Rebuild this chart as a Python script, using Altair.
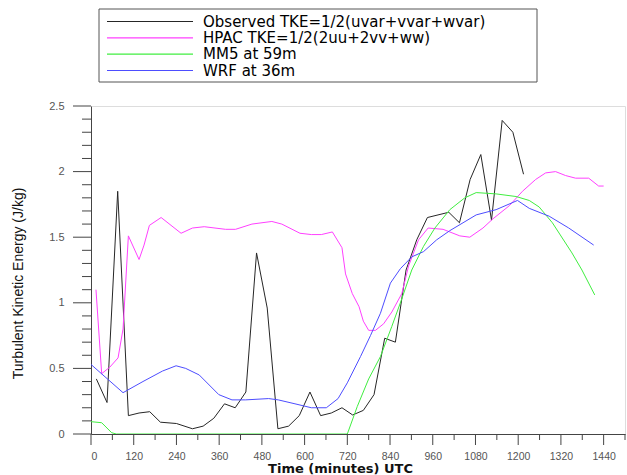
import altair as alt
import pandas as pd

series_names = [
    "Observed TKE=1/2(uvar+vvar+wvar)",
    "HPAC TKE=1/2(2uu+2vv+ww)",
    "MM5 at 59m",
    "WRF at 36m",
]
series_colors = ["#262626", "#ff40ff", "#40ee40", "#4d4dff"]

obs_t = [15, 45, 75, 105, 135, 165, 195, 240, 285, 315, 345, 375, 405, 435, 465, 495,
         525, 555, 585, 615, 645, 675, 705, 735, 765, 795, 825, 855, 885, 915, 945,
         1005, 1035, 1065, 1095, 1125, 1155, 1185, 1215]
obs_v = [0.42, 0.24, 1.85, 0.14, 0.16, 0.17, 0.09, 0.08, 0.04, 0.06, 0.12, 0.23, 0.20,
         0.32, 1.38, 0.96, 0.04, 0.06, 0.14, 0.32, 0.14, 0.16, 0.20, 0.145, 0.18, 0.30,
         0.73, 0.70, 1.25, 1.48, 1.65, 1.69, 1.61, 1.94, 2.13, 1.63, 2.39, 2.30, 1.98]

hpac_t = [14, 30, 53, 76, 90, 105, 135, 149, 164, 197, 253, 285, 318, 378, 406, 452,
          508, 536, 587, 619, 647, 678, 705, 715, 734, 753, 765, 780, 799, 822, 845,
          873, 892, 920, 947, 989, 1036, 1064, 1101, 1129, 1175, 1212, 1249, 1277,
          1305, 1333, 1361, 1398, 1426, 1440]
hpac_v = [1.10, 0.46, 0.51, 0.58, 0.80, 1.51, 1.33, 1.44, 1.59, 1.65, 1.53, 1.57, 1.58,
          1.56, 1.56, 1.60, 1.62, 1.60, 1.53, 1.52, 1.52, 1.54, 1.42, 1.22, 1.07, 0.97,
          0.86, 0.79, 0.79, 0.84, 0.93, 1.07, 1.28, 1.48, 1.57, 1.56, 1.51, 1.50, 1.57,
          1.64, 1.74, 1.85, 1.94, 1.99, 2.00, 1.97, 1.95, 1.95, 1.89, 1.89]

mm5_t = [0, 30, 58, 71, 720, 748, 780, 813, 845, 873, 901, 934, 966, 1008, 1050, 1082,
         1138, 1194, 1231, 1259, 1296, 1351, 1379, 1415]
mm5_v = [0.094, 0.086, 0.01, 0.0, 0.0, 0.21, 0.42, 0.59, 0.82, 1.03, 1.25, 1.43, 1.57,
         1.71, 1.80, 1.84, 1.83, 1.81, 1.78, 1.73, 1.61, 1.38, 1.25, 1.06]

wrf_t = [0, 90, 146, 201, 239, 266, 304, 359, 396, 434, 499, 526, 573, 619, 661, 694,
         720, 757, 785, 813, 841, 869, 901, 934, 971, 1008, 1045, 1082, 1138, 1198,
         1231, 1287, 1342, 1412]
wrf_v = [0.53, 0.315, 0.40, 0.48, 0.52, 0.50, 0.45, 0.30, 0.26, 0.26, 0.27, 0.26, 0.23,
         0.20, 0.20, 0.27, 0.39, 0.59, 0.75, 0.92, 1.15, 1.26, 1.35, 1.39, 1.48, 1.55,
         1.61, 1.67, 1.71, 1.78, 1.72, 1.66, 1.57, 1.44]

x_major_ticks = list(range(0, 1441, 120))
x_minor_ticks = list(range(60, 1501, 120))
y_major_ticks = [0, 0.5, 1, 1.5, 2, 2.5]
y_minor_ticks = [round(i * 0.1, 1) for i in range(0, 26) if i % 5 != 0]

frames = []
for name, ts, vs in zip(series_names, [obs_t, hpac_t, mm5_t, wrf_t],
                        [obs_v, hpac_v, mm5_v, wrf_v]):
    frames.append(pd.DataFrame({"t": ts, "v": vs, "series": name}))
df = pd.concat(frames, ignore_index=True)
legend_df = pd.DataFrame({"series": series_names})

x_scale = alt.Scale(domain=[0, 1500], nice=False, zero=False)
y_scale = alt.Scale(domain=[0, 2.5], nice=False)
color_scale = alt.Scale(domain=series_names, range=series_colors)
AX = "#444444"

lines = alt.Chart(df).mark_line(strokeWidth=1, clip=True).encode(
    x=alt.X("t:Q", scale=x_scale, axis=alt.Axis(
        orient="bottom", title="Time (minutes) UTC", values=x_major_ticks, format="d",
        labelOverlap=False, grid=False, domainColor=AX, ticks=False,
        labelPadding=17, labelFont="Liberation Sans", labelFontSize=10.5,
        labelColor="#555555",
        titleFont="DejaVu Sans", titleFontSize=13, titleFontWeight="bold",
        titleColor="#111111", titleX=249, titleY=34, titleAlign="center",
        titleBaseline="middle")),
    y=alt.Y("v:Q", scale=y_scale, axis=alt.Axis(
        orient="left", title="Turbulent Kinetic Energy (J/kg)", values=y_major_ticks,
        format="~g", labelOverlap=False, grid=False, domainColor=AX, ticks=False,
        labelPadding=27, labelFont="Liberation Sans", labelFontSize=11,
        labelColor="#555555", titleFont="Liberation Sans", titleFontSize=14,
        titleFontWeight="normal", titleColor="#111111", titleX=-73, titleY=177,
        titleAngle=270, titleAlign="center", titleBaseline="middle")),
    color=alt.Color("series:N", scale=color_scale, legend=None),
    detail="series:N",
)

xmaj = alt.Chart(pd.DataFrame({"t": x_major_ticks})).mark_rule(color=AX, strokeWidth=1).encode(
    x=alt.X("t:Q", scale=x_scale, axis=None), y=alt.value(328), y2=alt.value(339))
xmin = alt.Chart(pd.DataFrame({"t": x_minor_ticks})).mark_rule(color=AX, strokeWidth=1).encode(
    x=alt.X("t:Q", scale=x_scale, axis=None), y=alt.value(328), y2=alt.value(334))
ymaj = alt.Chart(pd.DataFrame({"v": y_major_ticks})).mark_rule(color=AX, strokeWidth=1).encode(
    y=alt.Y("v:Q", scale=y_scale, axis=None), x=alt.value(0), x2=alt.value(-18))
ymin = alt.Chart(pd.DataFrame({"v": y_minor_ticks})).mark_rule(color=AX, strokeWidth=1).encode(
    y=alt.Y("v:Q", scale=y_scale, axis=None), x=alt.value(0), x2=alt.value(-9))

legend_y = alt.Y("series:N", scale=alt.Scale(domain=series_names, type="point",
                                             range=[-84.5, -35.5], padding=0), axis=None)

legend_box = alt.Chart(legend_df).mark_rect(
    fill="#ffffff", stroke="#555555", strokeWidth=1
).encode(
    x=alt.value(8), x2=alt.value(446), y=alt.value(-97), y2=alt.value(-24)
).transform_filter(alt.datum.series == series_names[0])

legend_swatch = alt.Chart(legend_df).mark_rule(strokeWidth=1.2).encode(
    x=alt.value(16), x2=alt.value(102), y=legend_y,
    color=alt.Color("series:N", scale=color_scale, legend=None),
)

legend_text = alt.Chart(legend_df).mark_text(
    align="left", baseline="middle", font="DejaVu Sans", fontSize=15, color="#000000"
).encode(
    x=alt.value(112), y=legend_y, text="series:N",
)

chart = alt.layer(lines, xmaj, xmin, ymaj, ymin, legend_box, legend_swatch,
                  legend_text).resolve_scale(
    x="independent", y="independent"
).properties(
    width=534,
    height=328,
    autosize=alt.AutoSizeParams(type="none"),
    padding={"left": 91, "top": 106, "right": 2, "bottom": 41},
).configure_view(stroke=None).configure(background="#ffffff")

chart.save("out.html", embed_options={"renderer": "svg", "actions": False})
